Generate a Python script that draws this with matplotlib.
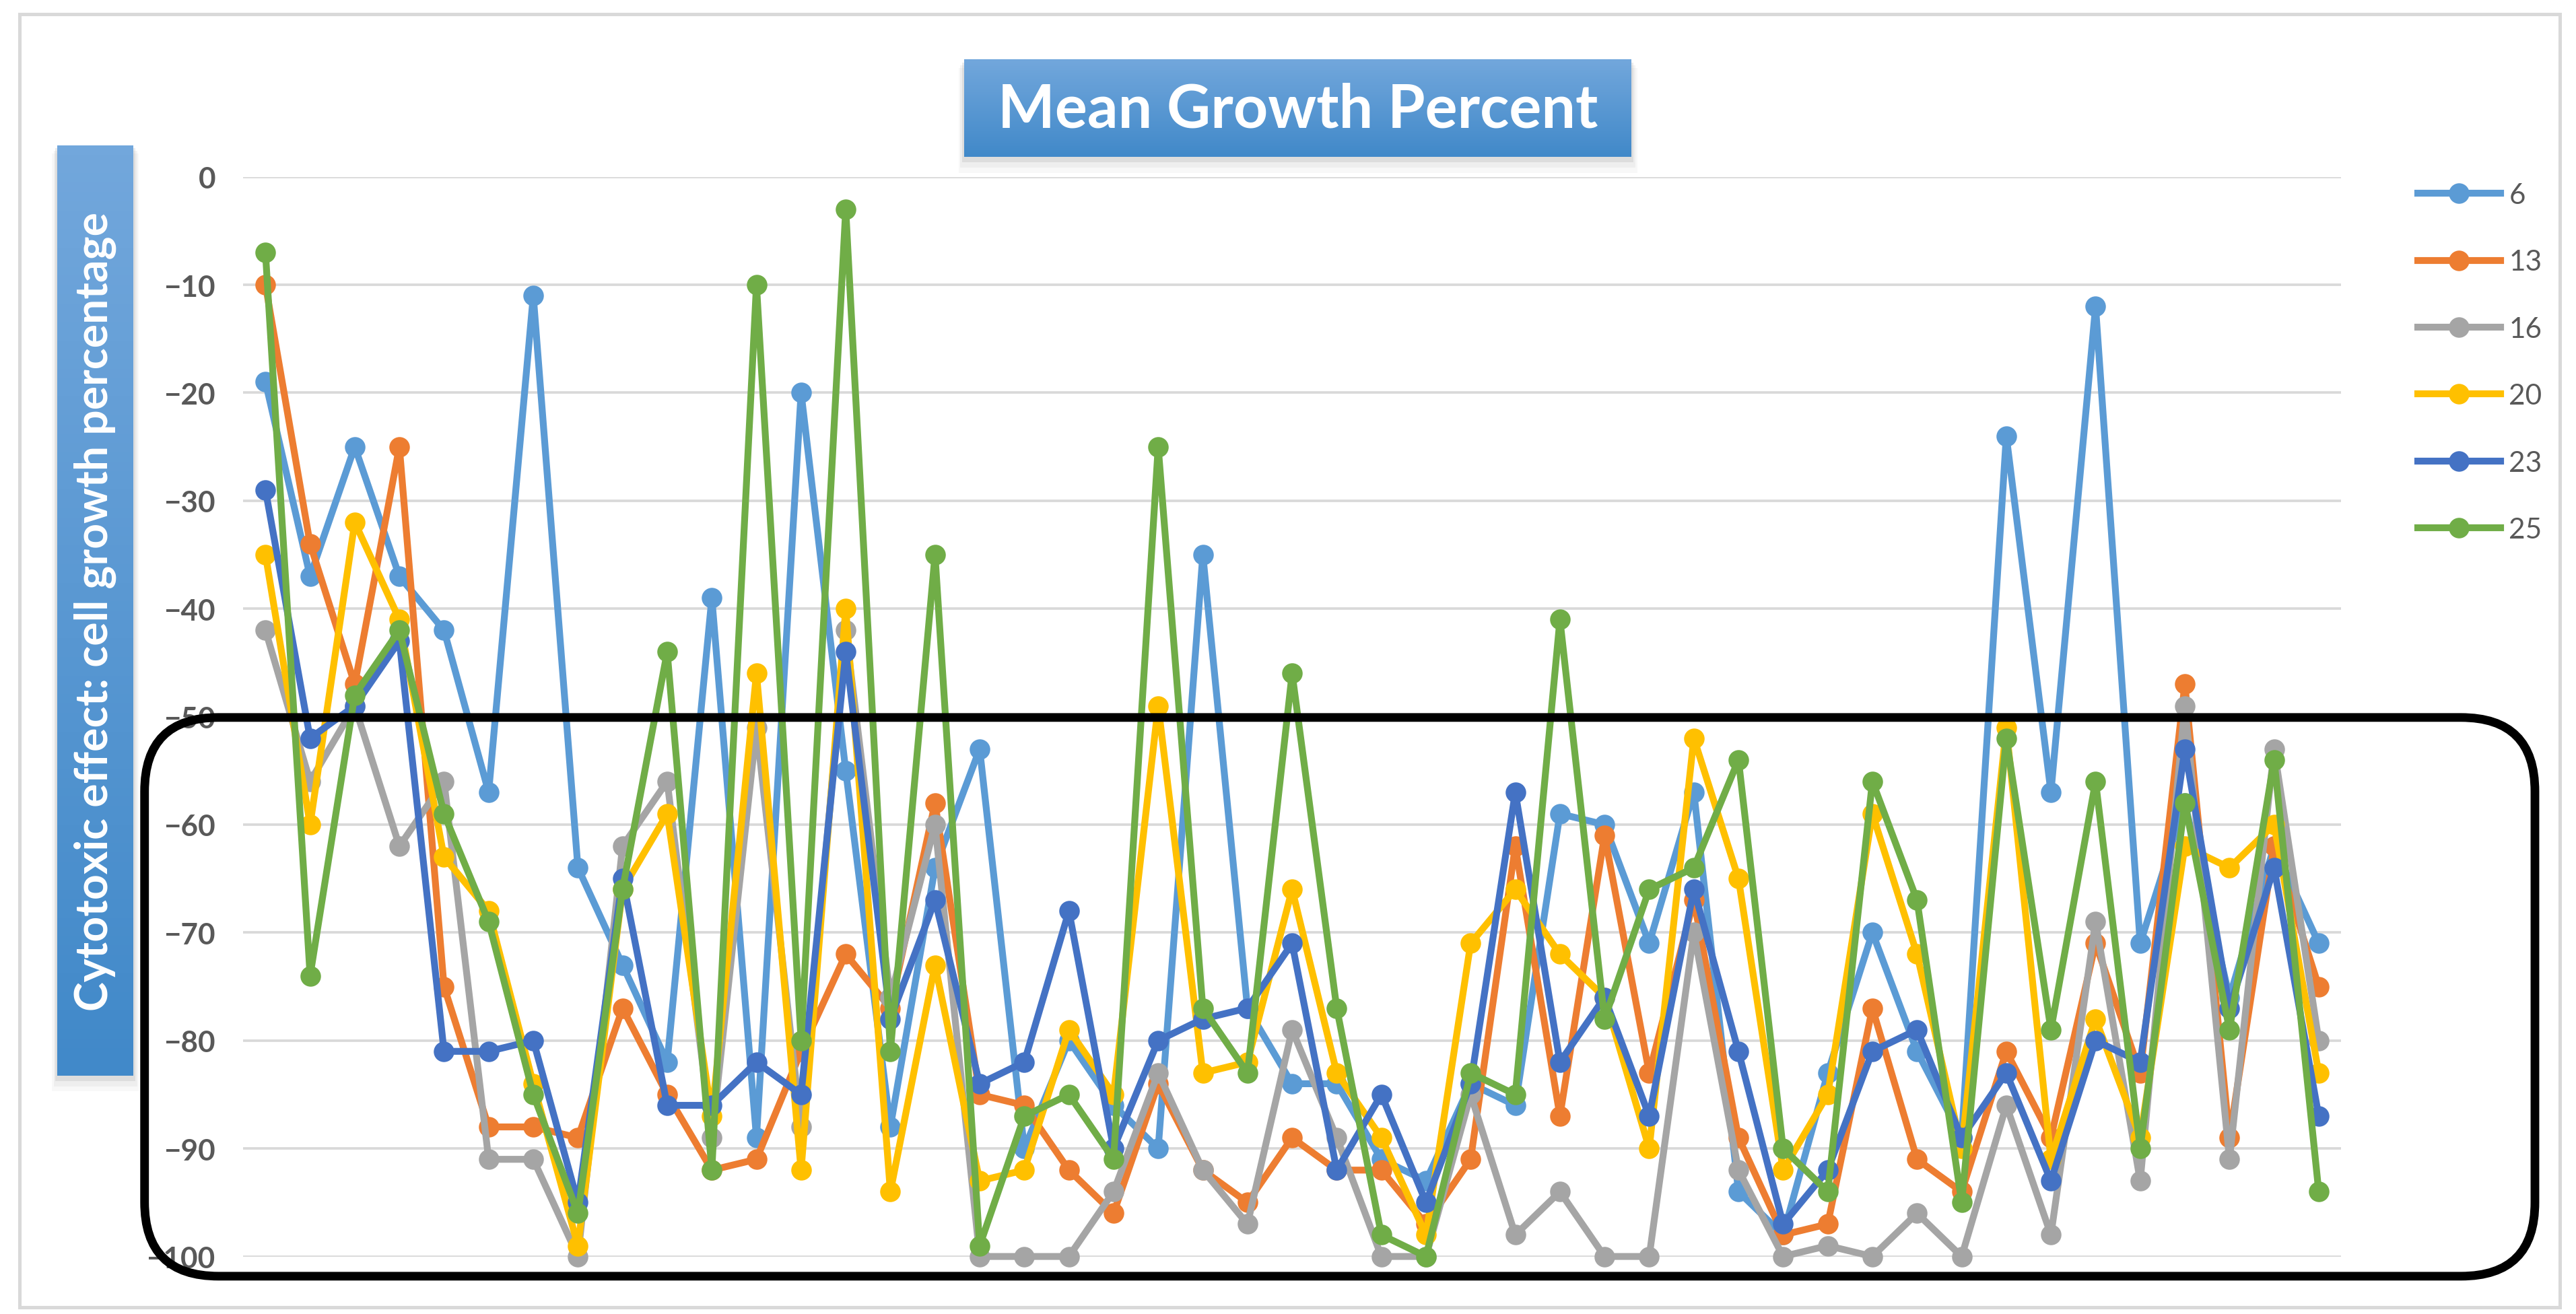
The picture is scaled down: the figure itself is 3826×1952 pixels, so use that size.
import matplotlib.pyplot as plt
import numpy as np
from matplotlib.patches import FancyBboxPatch, Rectangle
from matplotlib.colors import LinearSegmentedColormap

plt.rcParams['font.family'] = ['Lato', 'DejaVu Sans']

# compounds (legend) and their mean growth percent per cell line
series_names = ["6", "13", "16", "20", "23", "25"]
g6 = [-19, -37, -25, -37, -42, -57, -11, -64, -73, -82, -39, -89, -20, -55, -88, -64,
      -53, -90, -80, -86, -90, -35, -77, -84, -84, -91, -93, -84, -86, -59, -60, -71,
      -57, -94, -98, -83, -70, -81, -89, -24, -57, -12, -71, -58, -76, -62, -71]
g13 = [-10, -34, -47, -25, -75, -88, -88, -89, -77, -85, -92, -91, -81, -72, -77, -58,
       -85, -86, -92, -96, -84, -92, -95, -89, -92, -92, -97, -91, -62, -87, -61, -83,
       -67, -89, -98, -97, -77, -91, -94, -81, -89, -71, -83, -47, -89, -62, -75]
g16 = [-42, -56, -49, -62, -56, -91, -91, -100, -62, -56, -89, -51, -88, -42, -76, -60,
       -100, -100, -100, -94, -83, -92, -97, -79, -89, -100, -100, -85, -98, -94, -100, -100,
       -70, -92, -100, -99, -100, -96, -100, -86, -98, -69, -93, -49, -91, -53, -80]
g20 = [-35, -60, -32, -41, -63, -68, -84, -99, -66, -59, -87, -46, -92, -40, -94, -73,
       -93, -92, -79, -85, -49, -83, -82, -66, -83, -89, -98, -71, -66, -72, -76, -90,
       -52, -65, -92, -85, -59, -72, -90, -51, -91, -78, -89, -62, -64, -60, -83]
g23 = [-29, -52, -49, -43, -81, -81, -80, -95, -65, -86, -86, -82, -85, -44, -78, -67,
       -84, -82, -68, -90, -80, -78, -77, -71, -92, -85, -95, -84, -57, -82, -76, -87,
       -66, -81, -97, -92, -81, -79, -89, -83, -93, -80, -82, -53, -77, -64, -87]
g25 = [-7, -74, -48, -42, -59, -69, -85, -96, -66, -44, -92, -10, -80, -3, -81, -35,
       -99, -87, -85, -91, -25, -77, -83, -46, -77, -98, -100, -83, -85, -41, -78, -66,
       -64, -54, -90, -94, -56, -67, -95, -52, -79, -56, -90, -58, -79, -54, -94]
yticks = [0, -10, -20, -30, -40, -50, -60, -70, -80, -90, -100]

series = [g6, g13, g16, g20, g23, g25]
colors = ["#5B9BD5", "#ED7D31", "#A5A5A5", "#FFC000", "#4472C4", "#70AD47"]

W, H = 1568, 800
fig = plt.figure(figsize=(3826 / 244, 1953 / 244), dpi=244)

ax = fig.add_axes([148 / W, 1 - 765 / H, (1425 - 148) / W, (765 - 108) / H])
x = np.arange(len(g6))
for vals, name, c in zip(series, series_names, colors):
    ax.plot(x, vals, color=c, lw=3.0, marker='o', ms=8, label=name,
            clip_on=False, solid_joinstyle='round')
ax.set_xlim(-0.5, len(x) - 0.5)
ax.set_ylim(-100, 0)
ax.set_yticks(yticks)
ax.set_xticks([])
ax.grid(axis='y', color='#D9D9D9', lw=1.1)
ax.set_axisbelow(True)
for s in ax.spines.values():
    s.set_visible(False)
ax.tick_params(axis='y', length=0, pad=12, labelsize=13, labelcolor='#595959')
for t in ax.get_yticklabels():
    t.set_fontweight('bold')

fig.legend(*ax.get_legend_handles_labels(), loc='center left',
           bbox_to_anchor=(1456 / W, 1 - 221 / H), frameon=False,
           fontsize=12.5, labelcolor='#595959', handlelength=2.9,
           handletextpad=0.3, labelspacing=1.45)

# overlay in pixel-like coordinates for decorations
ov = fig.add_axes([0, 0, 1, 1])
ov.axis('off')
ov.add_patch(Rectangle((12, 9), 1546, 787, fill=False, ec='#D9D9D9', lw=1.5))
ov.add_patch(FancyBboxPatch((88, 437), 1455, 340, boxstyle='round,pad=0,rounding_size=45',
                            fill=False, ec='black', lw=3.8))

cmap = LinearSegmentedColormap.from_list('bluebox', ['#72A7DC', '#4189C9'])
grad = np.linspace(0, 1, 100).reshape(-1, 1)


def blue_box(x0, y0, w, h):
    for k, a in [(12, 0.05), (8, 0.08), (4, 0.15)]:
        ov.add_patch(Rectangle((x0 - k * 0.3, y0 + k * 0.4), w + k * 0.6, h + k * 0.4,
                               fc='#7F7F7F', ec='none', alpha=a))
    ov.imshow(grad, extent=(x0, x0 + w, y0 + h, y0), cmap=cmap, aspect='auto', zorder=3)


blue_box(587, 37, 406, 59)
ov.text(790, 67, "Mean Growth Percent", color='white', fontsize=26.5, fontweight='bold',
        ha='center', va='center', zorder=4)
blue_box(35, 89, 46, 566)
ov.text(58, 372, "Cytotoxic effect: cell growth percentage", color='white', fontsize=19.5,
        fontweight='bold', rotation=90, ha='center', va='center', zorder=4)

ov.set_xlim(0, W)
ov.set_ylim(H, 0)

fig.savefig("out.png", dpi=244)
